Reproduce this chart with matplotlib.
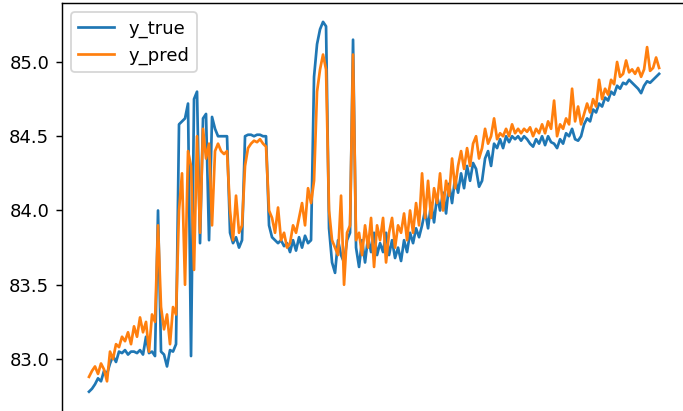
import matplotlib
matplotlib.use("Agg")
import matplotlib.pyplot as plt

# values, one sample every ~3 px
y_true = [
    82.78, 82.80, 82.83, 82.87, 82.85, 82.92, 82.90, 82.97, 83.02, 82.98,
    83.05, 83.04, 83.06, 83.03, 83.05, 83.05, 83.04, 83.06, 83.03, 83.15,
    83.04, 83.05, 83.02, 84.00, 83.05, 83.03, 82.95, 83.06, 83.05,
    83.10, 84.58, 84.60, 84.62, 84.72, 83.02, 84.75, 84.80, 83.78, 84.62,
    84.65, 83.80, 84.63, 84.55, 84.50, 84.50, 84.50, 84.50,
    83.85, 83.78, 83.82, 83.75, 83.80, 84.50, 84.51, 84.51, 84.50, 84.51,
    84.51, 84.50, 84.50, 83.90,
    83.82, 83.80, 83.78, 83.80, 83.76, 83.78, 83.72, 83.80, 83.73, 83.82,
    83.75, 83.83, 83.78, 83.80,
    84.90, 85.12, 85.22, 85.27, 85.24, 83.88, 83.65, 83.58, 83.80, 83.70,
    83.65, 83.80, 83.85, 85.15, 83.75,
    83.62, 83.80, 83.65, 83.82, 83.72, 83.85, 83.70, 83.78, 83.72, 83.85,
    83.70, 83.80, 83.68, 83.75, 83.66, 83.80, 83.72, 83.85, 83.78, 83.88,
    83.82,
    83.90, 84.00, 83.88, 84.05, 83.92, 84.10, 84.00, 84.12, 83.98, 84.18,
    84.05, 84.22, 84.12, 84.25, 84.15, 84.30, 84.20, 84.32, 84.28, 84.16,
    84.20, 84.35, 84.40, 84.30, 84.45, 84.42, 84.48, 84.42, 84.50, 84.46,
    84.50, 84.48, 84.50, 84.47, 84.50, 84.48, 84.45,
    84.43, 84.48, 84.45, 84.50, 84.44, 84.50, 84.46, 84.45, 84.42, 84.48,
    84.45, 84.52, 84.50, 84.55, 84.48, 84.47, 84.50, 84.58, 84.62, 84.60,
    84.68, 84.66, 84.72, 84.70, 84.76, 84.74, 84.80, 84.78, 84.84, 84.82,
    84.86, 84.85, 84.88, 84.86, 84.84, 84.82, 84.79, 84.84, 84.87, 84.86,
    84.88, 84.90, 84.92,
]

y_pred = [
    82.88, 82.92, 82.95, 82.90, 82.97, 82.93, 82.85, 83.05, 83.00, 83.10,
    83.08, 83.15, 83.12, 83.18, 83.10, 83.22, 83.15, 83.28, 83.18, 83.25,
    83.05, 83.30, 83.25, 83.90, 83.35, 83.20, 83.30, 83.10, 83.35,
    83.30, 84.00, 84.25, 83.50, 84.40, 84.30, 83.60, 84.50, 83.85, 84.55,
    84.35, 84.45, 83.90, 84.40, 84.45, 84.40, 84.38, 84.40,
    84.00, 83.80, 84.10, 83.85, 83.90, 84.30, 84.42, 84.45, 84.47, 84.46,
    84.48, 84.45, 84.43, 84.00,
    83.95, 83.85, 84.02, 83.80, 83.85, 83.75, 83.78, 83.90, 83.85, 83.95,
    84.05, 83.90, 84.15, 84.05,
    84.20, 84.80, 84.95, 85.05, 84.95, 84.00, 83.80, 83.75, 83.70, 84.10,
    83.50, 83.85, 83.90, 85.05, 83.80,
    83.85, 83.70, 83.90, 83.75, 83.95, 83.62, 83.90, 83.80, 83.95, 83.65,
    83.85, 83.95, 83.75, 83.90, 83.85, 83.98, 83.80, 84.00, 83.85, 84.05,
    83.90,
    84.25, 83.95, 84.20, 83.95, 84.15, 84.05, 84.25, 84.00, 84.20, 84.10,
    84.35, 84.15, 84.30, 84.40, 84.28, 84.42, 84.30, 84.45, 84.50, 84.35,
    84.42, 84.55, 84.45, 84.50, 84.62, 84.48, 84.52, 84.50, 84.55, 84.50,
    84.58, 84.52, 84.55, 84.52, 84.55, 84.53, 84.56,
    84.50, 84.55, 84.52, 84.58, 84.52, 84.60, 84.55, 84.74, 84.50, 84.58,
    84.55, 84.62, 84.58, 84.82, 84.60, 84.70, 84.58, 84.65, 84.72, 84.66,
    84.75, 84.70, 84.88, 84.75, 84.82, 84.78, 84.88, 84.85, 85.00, 84.90,
    84.92, 85.01, 84.93, 84.95, 84.92, 84.96, 84.90, 84.95, 85.10, 84.94,
    84.96, 85.03, 84.96,
]

ytick_vals = [83.0, 83.5, 84.0, 84.5, 85.0]

fig = plt.figure(figsize=(683 / 130, 411 / 130), dpi=130)
# the reference is a cropped screenshot: axes runs past bottom and right edges
ax = fig.add_axes([62 / 683, -0.1265, 628 / 683, 1.1192])

ax.plot(y_true, label='y_true', color='tab:blue', lw=1.5)
ax.plot(y_pred, label='y_pred', color='tab:orange', lw=1.5)

ax.set_xlim(-9, 200.3)
ax.set_ylim(82.3, 85.397)
ax.set_yticks(ytick_vals)
ax.set_yticklabels([f'{v:.1f}' for v in ytick_vals])
ax.tick_params(axis='x', labelbottom=False)
ax.legend(loc='upper left')

fig.savefig('out.png', dpi=130)
